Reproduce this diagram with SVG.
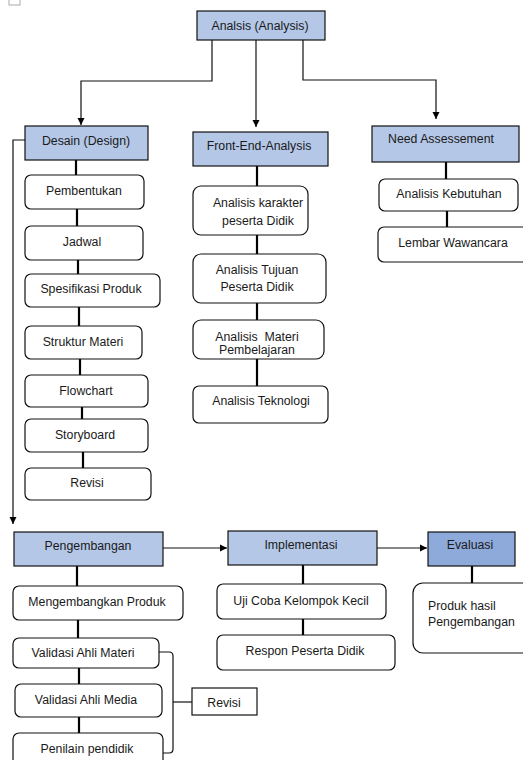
<svg xmlns="http://www.w3.org/2000/svg" width="523" height="760" viewBox="0 0 523 760">
<defs>
<marker id="ah" markerWidth="8" markerHeight="8" refX="7" refY="4" orient="auto" markerUnits="userSpaceOnUse">
<path d="M0,0.5 L7,4 L0,7.5 Z" fill="#000"/>
</marker>
<style>
.hd{fill:#b4c7e7;stroke:#111;stroke-width:1.2}
.hd2{fill:#8eaadb;stroke:#111;stroke-width:1.2}
.bx{fill:#fff;stroke:#111;stroke-width:1.2}
.sq{fill:#fff;stroke:#111;stroke-width:1.2}
text{font-family:"Liberation Sans",Arial,sans-serif;font-size:12.3px;fill:#1a1a1a;text-anchor:middle;dominant-baseline:central}
.lt{text-anchor:start}
.ar{fill:none;stroke:#111;stroke-width:1.2;marker-end:url(#ah)}
.ln{fill:none;stroke:#000;stroke-width:2.2}
.br{fill:none;stroke:#111;stroke-width:1.2}
</style>
</defs>
<rect width="523" height="760" fill="#fff"/>
<rect x="9" y="-1" width="11" height="6" fill="none" stroke="#aaa" stroke-width="1"/>

<g id="connectors">
<path class="ar" d="M212,40 V81 H81 V125"/>
<path class="ar" d="M256,40 V127"/>
<path class="ar" d="M303,40 V80 H436 V119"/>
<path class="ar" d="M25,140 H13 V524"/>
<path class="ar" d="M163,548 H227"/>
<path class="ar" d="M377,548 H427"/>
<path class="ln" d="M76,160 V175"/>
<path class="ln" d="M77,209 V226"/>
<path class="ln" d="M78,260 V274"/>
<path class="ln" d="M79,307 V326"/>
<path class="ln" d="M80,359 V375"/>
<path class="ln" d="M82,407 V419"/>
<path class="ln" d="M83,452 V468"/>
<path class="ln" d="M257,166 V186"/>
<path class="ln" d="M257,235 V254"/>
<path class="ln" d="M257,303 V320"/>
<path class="ln" d="M257,359 V386"/>
<path class="ln" d="M446,162 V179"/>
<path class="ln" d="M447,211 V227"/>
<path class="ln" d="M77,566 V586"/>
<path class="ln" d="M78,620 V638"/>
<path class="ln" d="M79,668 V684"/>
<path class="ln" d="M79,717 V733"/>
<path class="ln" d="M303,565 V584"/>
<path class="ln" d="M303,619 V635"/>
<path class="ln" d="M472,566 V583"/>
<path class="br" d="M159,652 H169 Q173,652 173,656 V749 Q173,753 169,753 H163"/>
<path class="br" d="M173,702 H192"/>
</g>

<g id="analisis"><rect class="hd" x="197" y="11" width="128" height="29"/><text x="260" y="26">Analsis (Analysis)</text></g>

<g id="desain"><rect class="hd" x="25" y="126" width="123" height="34"/><text x="86" y="141">Desain (Design)</text></g>
<g id="pembentukan"><rect class="bx" x="25" y="175" width="119" height="34" rx="6"/><text x="84" y="191">Pembentukan</text></g>
<g id="jadwal"><rect class="bx" x="25" y="226" width="118" height="34" rx="6"/><text x="82" y="242">Jadwal</text></g>
<g id="spesifikasi"><rect class="bx" x="25" y="274" width="135" height="33" rx="6"/><text x="91" y="289">Spesifikasi Produk</text></g>
<g id="struktur"><rect class="bx" x="25" y="326" width="117" height="33" rx="6"/><text x="83" y="342">Struktur Materi</text></g>
<g id="flowchart"><rect class="bx" x="25" y="375" width="123" height="32" rx="6"/><text x="86" y="391">Flowchart</text></g>
<g id="storyboard"><rect class="bx" x="25" y="419" width="123" height="33" rx="6"/><text x="85" y="435">Storyboard</text></g>
<g id="revisi1"><rect class="bx" x="25" y="468" width="126" height="32" rx="6"/><text x="87" y="483">Revisi</text></g>

<g id="front-end"><rect class="hd" x="193" y="132" width="135" height="34"/><text x="259" y="146">Front-End-Analysis</text></g>
<g id="karakter"><rect class="bx" x="193" y="186" width="115" height="49" rx="8"/><text x="258" y="203">Analisis karakter</text><text x="258" y="221">peserta Didik</text></g>
<g id="tujuan"><rect class="bx" x="193" y="254" width="133" height="49" rx="8"/><text x="257" y="270">Analisis Tujuan</text><text x="257" y="287">Peserta Didik</text></g>
<g id="materi"><rect class="bx" x="193" y="320" width="131" height="39" rx="8"/><text x="257" y="337">Analisis&#160; Materi</text><text x="257" y="350">Pembelajaran</text></g>
<g id="teknologi"><rect class="bx" x="193" y="386" width="135" height="37" rx="6"/><text x="261" y="401">Analisis Teknologi</text></g>

<g id="need"><rect class="hd" x="372" y="126" width="147" height="36"/><text x="441" y="139">Need Assessement</text></g>
<g id="kebutuhan"><rect class="bx" x="379" y="179" width="139" height="32" rx="6"/><text x="449" y="194">Analisis Kebutuhan</text></g>
<g id="wawancara"><rect class="bx" x="378" y="227" width="152" height="35" rx="6"/><text x="453" y="243">Lembar Wawancara</text></g>

<g id="pengembangan"><rect class="hd" x="14" y="532" width="149" height="34"/><text x="88" y="546">Pengembangan</text></g>
<g id="mengembangkan"><rect class="bx" x="13" y="586" width="170" height="34" rx="6"/><text x="97" y="602">Mengembangkan Produk</text></g>
<g id="ahli-materi"><rect class="bx" x="13" y="638" width="146" height="30" rx="6"/><text x="83" y="653">Validasi Ahli Materi</text></g>
<g id="ahli-media"><rect class="bx" x="15" y="684" width="147" height="33" rx="6"/><text x="86" y="700">Validasi Ahli Media</text></g>
<g id="penilain"><rect class="bx" x="13" y="733" width="150" height="40" rx="6"/><text x="87" y="749">Penilain pendidik</text></g>
<g id="revisi2"><rect class="sq" x="192" y="688" width="65" height="27"/><text x="224" y="703">Revisi</text></g>

<g id="implementasi"><rect class="hd" x="228" y="531" width="149" height="34"/><text x="301" y="545">Implementasi</text></g>
<g id="uji-coba"><rect class="bx" x="217" y="584" width="169" height="35" rx="6"/><text x="301" y="601">Uji Coba Kelompok Kecil</text></g>
<g id="respon"><rect class="bx" x="217" y="635" width="178" height="35" rx="6"/><text x="305" y="651">Respon Peserta Didik</text></g>

<g id="evaluasi"><rect class="hd2" x="428" y="532" width="87" height="34"/><text x="470" y="545">Evaluasi</text></g>
<g id="produk-hasil"><rect class="bx" x="413" y="583" width="125" height="70" rx="10"/><text class="lt" x="428" y="606">Produk hasil</text><text class="lt" x="428" y="622">Pengembangan</text></g>
</svg>
